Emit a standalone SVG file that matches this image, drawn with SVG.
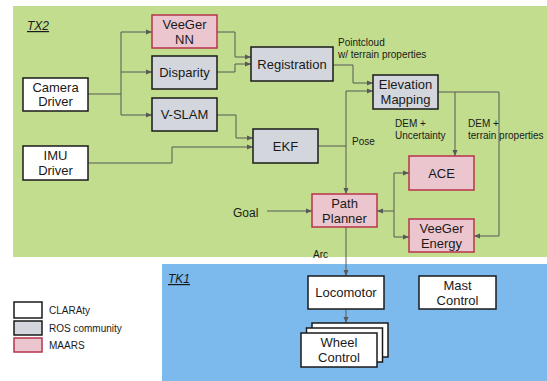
<svg xmlns="http://www.w3.org/2000/svg" width="547" height="381" viewBox="0 0 547 381">
<style>
text{font-family:"Liberation Sans",Arial,sans-serif;fill:#1a1a1a}
.n{font-size:13px;text-anchor:middle}
.s{font-size:10px}
.w{fill:#ffffff;stroke:#1a1a1a;stroke-width:1.5}
.g{fill:#d3d6dd;stroke:#1a1a1a;stroke-width:1.5}
.p{fill:#ecc6cf;stroke:#b8334c;stroke-width:1.5}
.c{fill:none;stroke:#595959;stroke-width:1}
</style>
<defs>
<marker id="a" viewBox="0 0 6 6" refX="6" refY="3" markerWidth="6" markerHeight="6" markerUnits="userSpaceOnUse" orient="auto">
<path d="M0,0.5 L6,3 L0,5.5 z" fill="#595959"/>
</marker>
</defs>
<rect x="13" y="6" width="534" height="251" fill="#c1dd8d"/>
<rect x="162" y="264" width="385" height="117" fill="#7cbaee"/>
<text x="27" y="30" font-size="12" font-style="italic" text-decoration="underline">TX2</text>
<text x="168" y="283" font-size="12" font-style="italic" text-decoration="underline">TK1</text>

<g id="connectors">
<path class="c" d="M88,94 H121"/>
<path class="c" d="M121,32 V115"/>
<path class="c" d="M121,32 H152" marker-end="url(#a)"/>
<path class="c" d="M121,72 H152" marker-end="url(#a)"/>
<path class="c" d="M121,115 H152" marker-end="url(#a)"/>
<path class="c" d="M217,32 H235 V57 H251" marker-end="url(#a)"/>
<path class="c" d="M217,72 H235 V64 H251" marker-end="url(#a)"/>
<path class="c" d="M217,115 H236 V138 H253" marker-end="url(#a)"/>
<path class="c" d="M88,163 H172 V147 H253" marker-end="url(#a)"/>
<path class="c" d="M333,65 H353 V83 H373" marker-end="url(#a)"/>
<path class="c" d="M318,146 H346"/>
<path class="c" d="M346,146 V91 H373" marker-end="url(#a)"/>
<path class="c" d="M346,146 V194" marker-end="url(#a)"/>
<path class="c" d="M438,92 H499 V236 H474" marker-end="url(#a)"/>
<path class="c" d="M455,92 V156" marker-end="url(#a)"/>
<path class="c" d="M267,211 H312" marker-end="url(#a)"/>
<path class="c" d="M394,211 H377" marker-end="url(#a)"/>
<path class="c" d="M394,173 V237"/>
<path class="c" d="M394,173 H409" marker-end="url(#a)"/>
<path class="c" d="M394,237 H409" marker-end="url(#a)"/>
<path class="c" d="M346,227 V276" marker-end="url(#a)"/>
<path class="c" d="M346,309 V323" marker-end="url(#a)"/>
<text class="s" x="338" y="46">Pointcloud</text>
<text class="s" x="338" y="58">w/ terrain properties</text>
<text class="s" x="352" y="145">Pose</text>
<text class="s" x="395" y="127">DEM +</text>
<text class="s" x="395" y="139">Uncertainty</text>
<text class="s" x="468" y="127">DEM +</text>
<text class="s" x="468" y="139">terrain properties</text>
<text x="233" y="217" font-size="12">Goal</text>
<text class="s" x="313" y="258">Arc</text>
</g>

<g id="camera-driver"><rect class="w" x="23" y="78" width="65" height="33"/><text class="n" x="55.5" y="92">Camera</text><text class="n" x="55.5" y="106">Driver</text></g>
<g id="imu-driver"><rect class="w" x="23" y="146" width="65" height="34"/><text class="n" x="55.5" y="160">IMU</text><text class="n" x="55.5" y="175">Driver</text></g>
<g id="veeger-nn"><rect class="p" x="152" y="15" width="65" height="33"/><text class="n" x="184.5" y="29">VeeGer</text><text class="n" x="184.5" y="44">NN</text></g>
<g id="disparity"><rect class="g" x="152" y="56" width="65" height="33"/><text class="n" x="184.5" y="77">Disparity</text></g>
<g id="v-slam"><rect class="g" x="152" y="98" width="65" height="33"/><text class="n" x="184.5" y="119">V-SLAM</text></g>
<g id="registration"><rect class="g" x="251" y="47" width="82" height="34"/><text class="n" x="292" y="69">Registration</text></g>
<g id="elevation-mapping"><rect class="g" x="373" y="75" width="65" height="34"/><text class="n" x="405.5" y="89">Elevation</text><text class="n" x="405.5" y="104">Mapping</text></g>
<g id="ekf"><rect class="g" x="253" y="129" width="65" height="34"/><text class="n" x="285.5" y="151">EKF</text></g>
<g id="ace"><rect class="p" x="409" y="156" width="65" height="34"/><text class="n" x="441.5" y="178">ACE</text></g>
<g id="path-planner"><rect class="p" x="312" y="194" width="65" height="33"/><text class="n" x="344.5" y="208">Path</text><text class="n" x="344.5" y="223">Planner</text></g>
<g id="veeger-energy"><rect class="p" x="409" y="219" width="65" height="33"/><text class="n" x="441.5" y="233">VeeGer</text><text class="n" x="441.5" y="248">Energy</text></g>
<g id="locomotor"><rect class="w" x="308" y="276" width="76" height="33"/><text class="n" x="346" y="297">Locomotor</text></g>
<g id="mast-control"><rect class="w" x="419" y="276" width="77" height="33"/><text class="n" x="457.5" y="290">Mast</text><text class="n" x="457.5" y="305">Control</text></g>
<g id="wheel-control"><rect class="w" x="312" y="323" width="76" height="34"/><rect class="w" x="306.5" y="328" width="76" height="34"/><rect class="w" x="301" y="333" width="76" height="34"/><text class="n" x="339" y="347">Wheel</text><text class="n" x="339" y="362">Control</text></g>

<g id="legend">
<rect class="w" x="14" y="302" width="28" height="16"/><text class="s" x="49" y="314">CLARAty</text>
<rect class="g" x="14" y="321" width="28" height="14"/><text class="s" x="49" y="332">ROS community</text>
<rect class="p" x="14" y="338" width="28" height="14"/><text class="s" x="49" y="349">MAARS</text>
</g>
</svg>
